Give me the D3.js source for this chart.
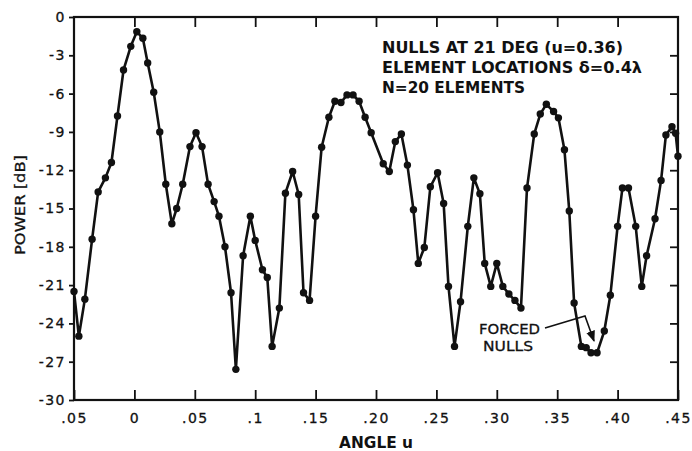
<!DOCTYPE html>
<html>
<head>
<meta charset="utf-8">
<script src="https://cdn.jsdelivr.net/npm/d3@7"></script>
<style>
  body { margin: 0; background: #fff; }
  svg text { font-family: "DejaVu Sans", sans-serif; fill: #111; }
</style>
</head>
<body>
<div id="chart-area"></div>
<script>
var angles = [-0.050, -0.046, -0.041, -0.035, -0.030, -0.024, -0.019, -0.014, -0.009, -0.003,
    0.002, 0.007, 0.011, 0.016, 0.021, 0.026, 0.031, 0.035, 0.040, 0.046,
    0.051, 0.056, 0.061, 0.066, 0.070, 0.075, 0.080, 0.084, 0.090, 0.096,
    0.100, 0.106, 0.110, 0.114, 0.120, 0.125, 0.131, 0.136, 0.140, 0.145,
    0.150, 0.155, 0.161, 0.166, 0.171, 0.176, 0.181, 0.186, 0.191, 0.196,
    0.206, 0.211, 0.216, 0.221, 0.226, 0.231, 0.235, 0.240, 0.245, 0.251,
    0.256, 0.260, 0.265, 0.270, 0.276, 0.281, 0.286, 0.290, 0.295, 0.300,
    0.305, 0.310, 0.315, 0.320, 0.325, 0.331, 0.336, 0.341, 0.347, 0.351,
    0.356, 0.360, 0.364, 0.370, 0.374, 0.378, 0.383, 0.389, 0.394, 0.400,
    0.404, 0.409, 0.415, 0.420, 0.424, 0.431, 0.436, 0.440, 0.445, 0.448,
    0.450]
var power = [-21.5, -25.0, -22.1, -17.4, -13.7, -12.6, -11.4, -7.75, -4.15, -2.3,
    -1.15, -1.67, -3.6, -5.9, -9.0, -13.1, -16.2, -15.0, -13.1, -10.15,
    -9.06, -10.15, -13.1, -14.46, -15.6, -18.0, -21.6, -27.6, -18.7, -15.6,
    -17.5, -19.8, -20.4, -25.8, -22.8, -13.8, -12.1, -13.9, -21.6, -22.2,
    -15.6, -10.2, -7.85, -6.6, -6.7, -6.1, -6.1, -6.6, -7.85, -9.06,
    -11.5, -12.1, -9.76, -9.16, -11.6, -15.1, -19.3, -18.06, -13.3, -12.2,
    -14.6, -21.1, -25.8, -22.3, -16.4, -12.6, -13.85, -19.3, -21.1, -19.3,
    -21.1, -21.7, -22.2, -22.8, -13.4, -9.16, -7.6, -6.84, -7.4, -7.9,
    -10.4, -15.2, -22.4, -25.8, -25.9, -26.3, -26.3, -24.6, -21.8, -16.4,
    -13.4, -13.4, -16.4, -21.1, -18.7, -15.8, -12.8, -9.24, -8.6, -9.1,
    -10.9]

var xTicks = [-0.05, 0, 0.05, 0.1, 0.15, 0.2, 0.25, 0.3, 0.35, 0.4, 0.45]
var xTickLabels = [".05", "0", ".05", ".1", ".15", ".20", ".25", ".30", ".35", ".40", ".45"]
var yTicks = [0, -3, -6, -9, -12, -15, -18, -21, -24, -27, -30]
var yTickLabels = ["0", "-3", "-6", "-9", "-12", "-15", "-18", "-21", "-24", "-27", "-30"]
var noteLines = ["NULLS AT 21 DEG (u=0.36)", "ELEMENT LOCATIONS \u03b4=0.4\u03bb", "N=20 ELEMENTS"]

var width = 692, height = 451
var margin = { left: 74, right: 14, top: 17, bottom: 51 }

var svg = d3.select("#chart-area").append("svg")
    .attr("width", width)
    .attr("height", height)

var x = d3.scaleLinear().domain([-0.05, 0.45]).range([margin.left, width - margin.right])
var y = d3.scaleLinear().domain([-30, 0]).range([height - margin.bottom, margin.top])

// bottom axis, ticks point inward
var xAxisGroup = svg.append("g")
    .attr("transform", "translate(0," + y(-30) + ")")
    .call(d3.axisBottom(x).tickValues(xTicks).tickSize(-10).tickPadding(13)
        .tickFormat(function(d, i) { return xTickLabels[i] }))
xAxisGroup.selectAll("text").style("font-size", "14px").style("letter-spacing", "1.5px")
    .style("stroke", "#111").style("stroke-width", 0.3)

// top axis, ticks only
svg.append("g")
    .attr("transform", "translate(0," + y(0) + ")")
    .call(d3.axisTop(x).tickValues(xTicks.slice(1, -1)).tickSize(-10).tickFormat(""))

// left axis, short outward ticks
var yAxisGroup = svg.append("g")
    .attr("transform", "translate(" + x(-0.05) + ",0)")
    .call(d3.axisLeft(y).tickValues(yTicks).tickSize(5).tickPadding(3)
        .tickFormat(function(d, i) { return yTickLabels[i] }))
yAxisGroup.selectAll("text").style("font-size", "14px").style("letter-spacing", "1.5px")
    .style("stroke", "#111").style("stroke-width", 0.3)

// right axis, inward ticks
svg.append("g")
    .attr("transform", "translate(" + x(0.45) + ",0)")
    .call(d3.axisRight(y).tickValues(yTicks.slice(1, -1)).tickSize(-8).tickFormat(""))

svg.selectAll(".domain").remove()
svg.selectAll(".tick line").attr("stroke", "#111").attr("stroke-width", 1.8)

// frame
svg.append("rect")
    .attr("x", x(-0.05))
    .attr("y", y(0))
    .attr("width", x(0.45) - x(-0.05))
    .attr("height", y(-30) - y(0))
    .style("fill", "none")
    .style("stroke", "#111")
    .style("stroke-width", 2.2)

// axis titles
svg.append("text")
    .attr("x", x(0.2))
    .attr("y", 448)
    .attr("textLength", 74)
    .attr("lengthAdjust", "spacingAndGlyphs")
    .style("text-anchor", "middle")
    .style("font-size", "15px")
    .style("font-weight", "bold")
    .text("ANGLE u")

svg.append("text")
    .attr("transform", "translate(25," + 205 + ") rotate(-90)")
    .attr("textLength", 100)
    .attr("lengthAdjust", "spacingAndGlyphs")
    .style("text-anchor", "middle")
    .style("font-size", "14px")
    .style("stroke", "#111").style("stroke-width", 0.3)
    .text("POWER [dB]")

// pattern curve
var pts = angles.map(function(a, i) { return [a, power[i]] })
var line = d3.line()
    .x(function(d) { return x(d[0]) })
    .y(function(d) { return y(d[1]) })

svg.append("path")
    .datum(pts)
    .attr("d", line)
    .style("fill", "none")
    .style("stroke", "#111")
    .style("stroke-width", 2.6)
    .style("stroke-linejoin", "round")

svg.selectAll(".dot").data(pts).enter()
    .append("circle")
    .attr("class", "dot")
    .attr("cx", function(d) { return x(d[0]) })
    .attr("cy", function(d) { return y(d[1]) })
    .attr("r", 3.7)
    .attr("fill", "#111")

// note box text
var noteWidths = [241, 260, 143]
noteLines.forEach(function(t, i) {
    svg.append("text")
        .attr("x", 382)
        .attr("y", 53 + i * 20)
        .attr("textLength", noteWidths[i])
        .attr("lengthAdjust", "spacingAndGlyphs")
        .style("font-size", "15px")
        .style("font-weight", "bold")
        .text(t)
})

// forced nulls callout
svg.append("text").attr("x", 479).attr("y", 334)
    .attr("textLength", 61).attr("lengthAdjust", "spacingAndGlyphs")
    .style("font-size", "14px").style("stroke", "#111").style("stroke-width", 0.3)
    .text("FORCED")
svg.append("text").attr("x", 483).attr("y", 351)
    .attr("textLength", 50).attr("lengthAdjust", "spacingAndGlyphs")
    .style("font-size", "14px").style("stroke", "#111").style("stroke-width", 0.3)
    .text("NULLS")

svg.append("defs").append("marker")
    .attr("id", "arrow")
    .attr("viewBox", "0 0 10 10")
    .attr("refX", 9).attr("refY", 5)
    .attr("markerWidth", 7).attr("markerHeight", 7)
    .attr("orient", "auto")
    .append("path").attr("d", "M0,1 L10,5 L0,9 Z").attr("fill", "#111")

svg.append("path")
    .attr("d", "M545,328 L585,316 L594,341")
    .style("fill", "none")
    .style("stroke", "#111")
    .style("stroke-width", 1.6)
    .attr("marker-end", "url(#arrow)")
</script>
</body>
</html>
